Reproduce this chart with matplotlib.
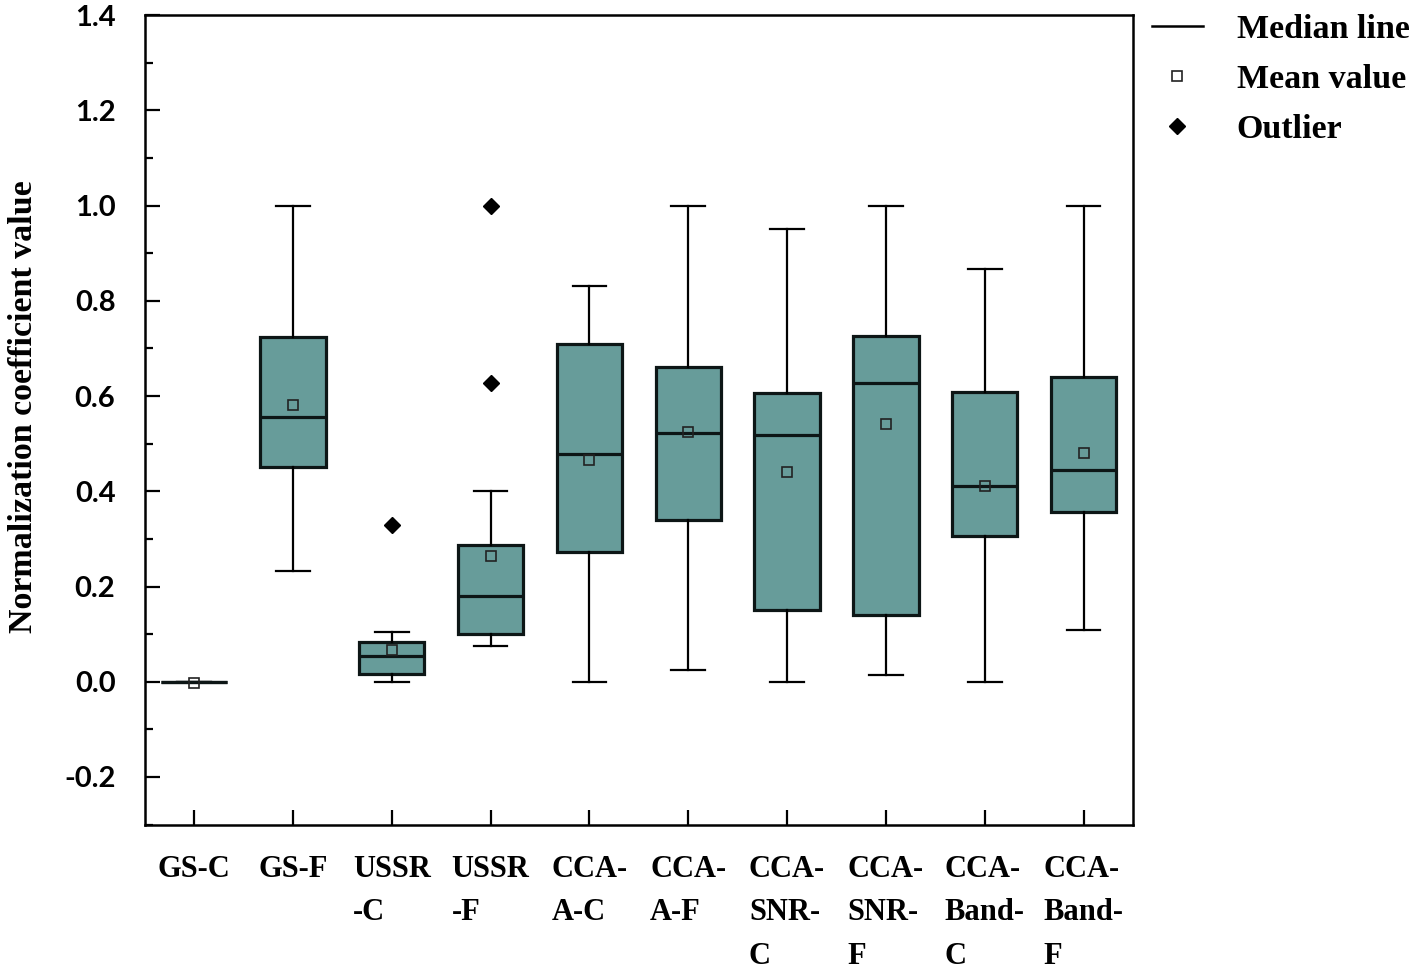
import matplotlib.pyplot as plt
from matplotlib.lines import Line2D
from matplotlib.ticker import MultipleLocator

# categories (tick labels)
labels = ['GS-C', 'GS-F', 'USSR\n-C', 'USSR\n-F', 'CCA-\nA-C', 'CCA-\nA-F',
          'CCA-\nSNR-\nC', 'CCA-\nSNR-\nF', 'CCA-\nBand-\nC', 'CCA-\nBand-\nF']

# box statistics
whislo = [0.0, 0.233, 0.0, 0.075, 0.0, 0.025, 0.0, 0.015, 0.0, 0.109]
q1 = [0.0, 0.450, 0.017, 0.101, 0.273, 0.340, 0.151, 0.141, 0.305, 0.357]
med = [0.0, 0.555, 0.055, 0.180, 0.479, 0.523, 0.519, 0.628, 0.410, 0.445]
q3 = [0.0, 0.723, 0.084, 0.288, 0.710, 0.660, 0.607, 0.725, 0.609, 0.639]
whishi = [0.0, 1.0, 0.104, 0.400, 0.830, 1.0, 0.950, 1.0, 0.866, 1.0]
means = [-0.003, 0.582, 0.067, 0.263, 0.466, 0.525, 0.441, 0.542, 0.412, 0.481]
outliers = [[], [], [0.330], [0.628, 1.0], [], [], [], [], [], []]
yticks = [-0.2, 0.0, 0.2, 0.4, 0.6, 0.8, 1.0, 1.2, 1.4]

stats = []
for i in range(len(labels)):
    stats.append({'label': labels[i], 'whislo': whislo[i], 'q1': q1[i], 'med': med[i],
                  'q3': q3[i], 'whishi': whishi[i], 'mean': means[i], 'fliers': outliers[i]})

teal = '#679c9a'
edge = '#0d1616'

fig = plt.figure(figsize=(14.18, 9.69), dpi=100)
ax = fig.add_axes([0.102, 0.149, 0.697, 0.8355])

ax.bxp(stats, positions=range(1, len(labels) + 1), widths=0.66, patch_artist=True,
       showmeans=True,
       boxprops=dict(facecolor=teal, edgecolor=edge, linewidth=2.3),
       medianprops=dict(color=edge, linewidth=2.3),
       whiskerprops=dict(color='black', linewidth=1.6),
       capprops=dict(color='black', linewidth=1.6),
       capwidths=0.34,
       meanprops=dict(marker='s', markerfacecolor='none', markeredgecolor='#222222',
                      markersize=7, markeredgewidth=1.2),
       flierprops=dict(marker='D', markerfacecolor='black', markeredgecolor='black',
                       markersize=8))

ax.set_xlim(0.5, len(labels) + 0.5)
ax.set_ylim(-0.3, 1.4)
ax.yaxis.set_minor_locator(MultipleLocator(0.1))
ax.set_yticks(yticks)
ax.set_yticklabels([f'{v:.1f}' for v in yticks],
                   fontfamily='Lato', fontweight='bold', fontsize=21)
ax.set_xticks(range(1, len(labels) + 1))
ax.set_xticklabels(labels, fontfamily='Liberation Serif', fontweight='bold', fontsize=22,
                   linespacing=1.65)
for t in ax.get_xticklabels():
    t.set_multialignment('left')

ax.tick_params(axis='y', which='major', direction='in', length=11, width=1.6, pad=21)
ax.tick_params(axis='y', which='minor', direction='in', length=6, width=1.6)
ax.tick_params(axis='x', which='major', direction='in', length=11, width=1.6, pad=22)
for s in ax.spines.values():
    s.set_linewidth(1.8)

ax.set_ylabel('Normalization coefficient value', fontfamily='Liberation Serif',
              fontweight='bold', fontsize=24.5)
ax.yaxis.set_label_coords(-0.107, 0.516)

handles = [Line2D([], [], color='black', linewidth=1.8),
           Line2D([], [], linestyle='none', marker='s', markerfacecolor='none',
                  markeredgecolor='#222222', markersize=7, markeredgewidth=1.2),
           Line2D([], [], linestyle='none', marker='D', color='black', markersize=8)]
ax.legend(handles, ['Median line', 'Mean value', 'Outlier'], loc='upper left',
          bbox_to_anchor=(1.005, 1.018), frameon=False, handlelength=1.5,
          handletextpad=1.0, labelspacing=0.56, borderaxespad=0,
          prop={'family': 'Liberation Serif', 'weight': 'bold', 'size': 24.5})

plt.savefig('out.png', dpi=100)
